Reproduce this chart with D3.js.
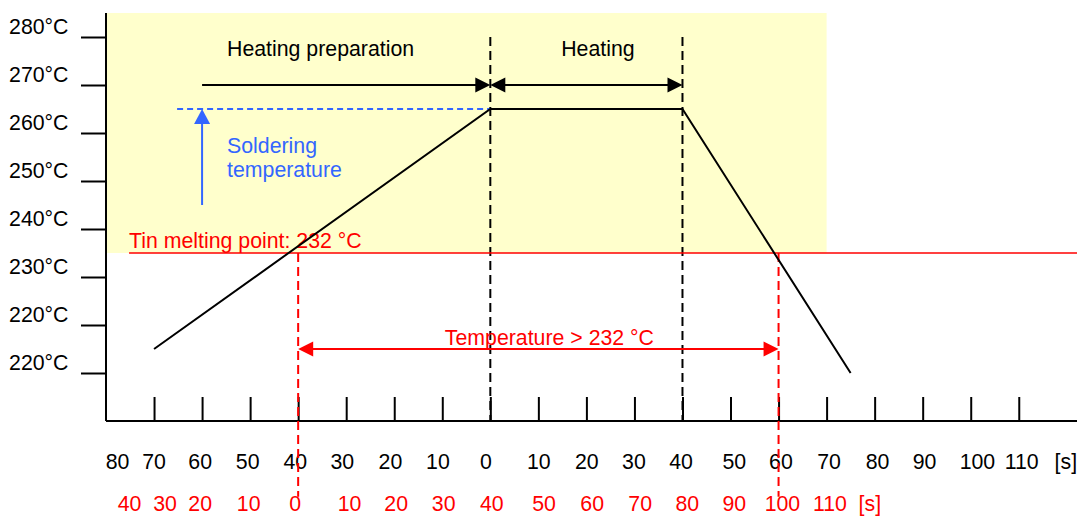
<!DOCTYPE html>
<html>
<head>
<meta charset="utf-8">
<script src="https://cdn.jsdelivr.net/npm/d3@7"></script>
<style>
  html, body { margin: 0; padding: 0; background: #fff; }
  svg { display: block; font-family: "Liberation Sans", Arial, sans-serif; }
</style>
</head>
<body>
<svg id="chart" width="1077" height="516"></svg>
<script>
// ---------- data ----------
const yTickValues = [280, 270, 260, 250, 240, 230, 220, 210];
const yTickLabels = ["280°C", "270°C", "260°C", "250°C", "240°C", "230°C", "220°C", "220°C"];

const xTickValues = [-30, -20, -10, 0, 10, 20, 30, 40, 50, 60, 70, 80, 90, 100, 110, 120, 130, 140, 150];

const blackLabels = ["80", "70", "60", "50", "40", "30", "20", "10", "0", "10", "20", "30", "40", "50", "60", "70", "80", "90", "100", "110", "[s]"];
const blackLabelPos = [-37.6, -30, -20.4, -10.5, -0.6, 9.2, 19.2, 29.1, 39.1, 50.1, 60.1, 69.9, 79.7, 90.8, 100.5, 110.5, 120.6, 130.4, 141.4, 150.6, 159.8];

const redLabels = ["40", "30", "20", "10", "0", "10", "20", "30", "40", "50", "60", "70", "80", "90", "100", "110", "[s]"];
const redLabelPos = [-35.1, -27.7, -20.4, -10.3, -0.6, 10.7, 20.4, 30.3, 40.3, 51.2, 61.2, 71.2, 81, 90.8, 100.8, 110.7, 119];

const profileTime = [-30, 40, 80, 115];
const profileTemp = [215, 265, 265, 210];

const meltingLevel = 235;          // level drawn for the tin melting point line
const meltingLabel = "Tin melting point: 232 °C";
const solderingTemp = 265;
const prepStart = -20, heatStart = 40, heatEnd = 80;
const aboveStart = 0, aboveEnd = 100;
const aboveLabel = "Temperature > 232 °C";

// ---------- scales ----------
const W = 1077, H = 516;
const svg = d3.select("#chart");
const x = d3.scaleLinear().domain([-40, 160]).range([106, 1066.8]);
const y = d3.scaleLinear().domain([200, 285]).range([421, 13]);

const FS = 21.3;
const RED = "#ff0000", BLUE = "#3366ff";

// yellow region
svg.append("rect")
  .attr("x", x(-40)).attr("y", y(285))
  .attr("width", x(110) - x(-40)).attr("height", y(meltingLevel) - y(285))
  .attr("fill", "#ffffcc");

// y axis
svg.append("line").attr("x1", x(-40)).attr("x2", x(-40)).attr("y1", y(285)).attr("y2", y(200))
  .attr("stroke", "#000").attr("stroke-width", 2);
const yAxis = d3.axisLeft(y).tickValues(yTickValues).tickSize(25).tickFormat("");
const yg = svg.append("g").attr("transform", `translate(${x(-40)},0)`).call(yAxis);
yg.select(".domain").remove();
yg.selectAll(".tick line").attr("stroke", "#000").attr("stroke-width", 2);
svg.selectAll(".ylab").data(yTickValues).enter().append("text")
  .attr("x", 68.5).attr("y", d => y(d) - 3.5)
  .attr("text-anchor", "end").attr("font-size", FS).attr("fill", "#000")
  .text((d, i) => yTickLabels[i]);

// x axis
svg.append("line").attr("x1", x(-40)).attr("x2", W).attr("y1", y(200)).attr("y2", y(200))
  .attr("stroke", "#000").attr("stroke-width", 2);
const xAxis = d3.axisTop(x).tickValues(xTickValues).tickSize(24).tickFormat("");
const xg = svg.append("g").attr("transform", `translate(0,${y(200)})`).call(xAxis);
xg.select(".domain").remove();
xg.selectAll(".tick line").attr("stroke", "#000").attr("stroke-width", 2);

svg.selectAll(".blab").data(blackLabels).enter().append("text")
  .attr("x", (d, i) => x(blackLabelPos[i])).attr("y", 469)
  .attr("text-anchor", "middle").attr("font-size", FS).attr("fill", "#000")
  .text(d => d);
svg.selectAll(".rlab").data(redLabels).enter().append("text")
  .attr("x", (d, i) => x(redLabelPos[i])).attr("y", 511)
  .attr("text-anchor", "middle").attr("font-size", FS).attr("fill", RED)
  .text(d => d);

// black dashed phase boundaries
[heatStart, heatEnd].forEach(t => {
  svg.append("line").attr("x1", x(t)).attr("x2", x(t)).attr("y1", y(280)).attr("y2", y(200))
    .attr("stroke", "#000").attr("stroke-width", 2).attr("stroke-dasharray", "9,5");
});

// arrow helper
function arrowHead(px, py, dir, color, len, half) {
  let pts;
  if (dir === "r") pts = [[px, py], [px - len, py - half], [px - len, py + half]];
  else if (dir === "l") pts = [[px, py], [px + len, py - half], [px + len, py + half]];
  else pts = [[px, py], [px - half, py + len], [px + half, py + len]];
  svg.append("path").attr("d", "M" + pts.map(p => p.join(",")).join("L") + "Z").attr("fill", color);
}

// red melting line
svg.append("line").attr("x1", x(-35.2)).attr("x2", W).attr("y1", y(meltingLevel)).attr("y2", y(meltingLevel))
  .attr("stroke", RED).attr("stroke-width", 1.5);
svg.append("text").attr("x", x(-35.2)).attr("y", y(meltingLevel) - 5)
  .attr("font-size", FS).attr("fill", RED).text(meltingLabel);

// red dashed verticals
[aboveStart, aboveEnd].forEach(t => {
  svg.append("line").attr("x1", x(t)).attr("x2", x(t)).attr("y1", y(meltingLevel)).attr("y2", y(184.2))
    .attr("stroke", RED).attr("stroke-width", 2).attr("stroke-dasharray", "9,5");
});

// red double arrow
svg.append("line").attr("x1", x(aboveStart) + 10).attr("x2", x(aboveEnd) - 10).attr("y1", y(215)).attr("y2", y(215))
  .attr("stroke", RED).attr("stroke-width", 2);
arrowHead(x(aboveStart), y(215), "l", RED, 15, 7.5);
arrowHead(x(aboveEnd), y(215), "r", RED, 15, 7.5);
svg.append("text").attr("x", x(52.3)).attr("y", y(215) - 4)
  .attr("text-anchor", "middle").attr("font-size", FS).attr("fill", RED).text(aboveLabel);

// blue soldering temperature
svg.append("line").attr("x1", x(-25.2)).attr("x2", x(heatStart)).attr("y1", y(solderingTemp)).attr("y2", y(solderingTemp))
  .attr("stroke", BLUE).attr("stroke-width", 2).attr("stroke-dasharray", "6,4");
svg.append("line").attr("x1", x(prepStart)).attr("x2", x(prepStart)).attr("y1", y(245)).attr("y2", y(solderingTemp) + 10)
  .attr("stroke", BLUE).attr("stroke-width", 2);
arrowHead(x(prepStart), y(solderingTemp), "u", BLUE, 15, 8);
svg.append("text").attr("x", x(-14.8)).attr("y", 153).attr("font-size", FS).attr("fill", BLUE).text("Soldering");
svg.append("text").attr("x", x(-14.8)).attr("y", 177).attr("font-size", FS).attr("fill", BLUE).text("temperature");

// phase arrows
svg.append("line").attr("x1", x(prepStart)).attr("x2", x(heatStart) - 10).attr("y1", y(270)).attr("y2", y(270))
  .attr("stroke", "#000").attr("stroke-width", 2);
arrowHead(x(heatStart), y(270), "r", "#000", 15, 7.5);
svg.append("line").attr("x1", x(heatStart) + 10).attr("x2", x(heatEnd) - 10).attr("y1", y(270)).attr("y2", y(270))
  .attr("stroke", "#000").attr("stroke-width", 2);
arrowHead(x(heatStart), y(270), "l", "#000", 15, 7.5);
arrowHead(x(heatEnd), y(270), "r", "#000", 15, 7.5);
svg.append("text").attr("x", x(-14.8)).attr("y", 56).attr("font-size", FS).attr("fill", "#000").text("Heating preparation");
svg.append("text").attr("x", x(62.4)).attr("y", 56).attr("text-anchor", "middle").attr("font-size", FS).attr("fill", "#000").text("Heating");

// profile
const line = d3.line().x((d, i) => x(profileTime[i])).y(d => y(d));
svg.append("path").datum(profileTemp).attr("d", line)
  .attr("fill", "none").attr("stroke", "#000").attr("stroke-width", 2);
</script>
</body>
</html>
